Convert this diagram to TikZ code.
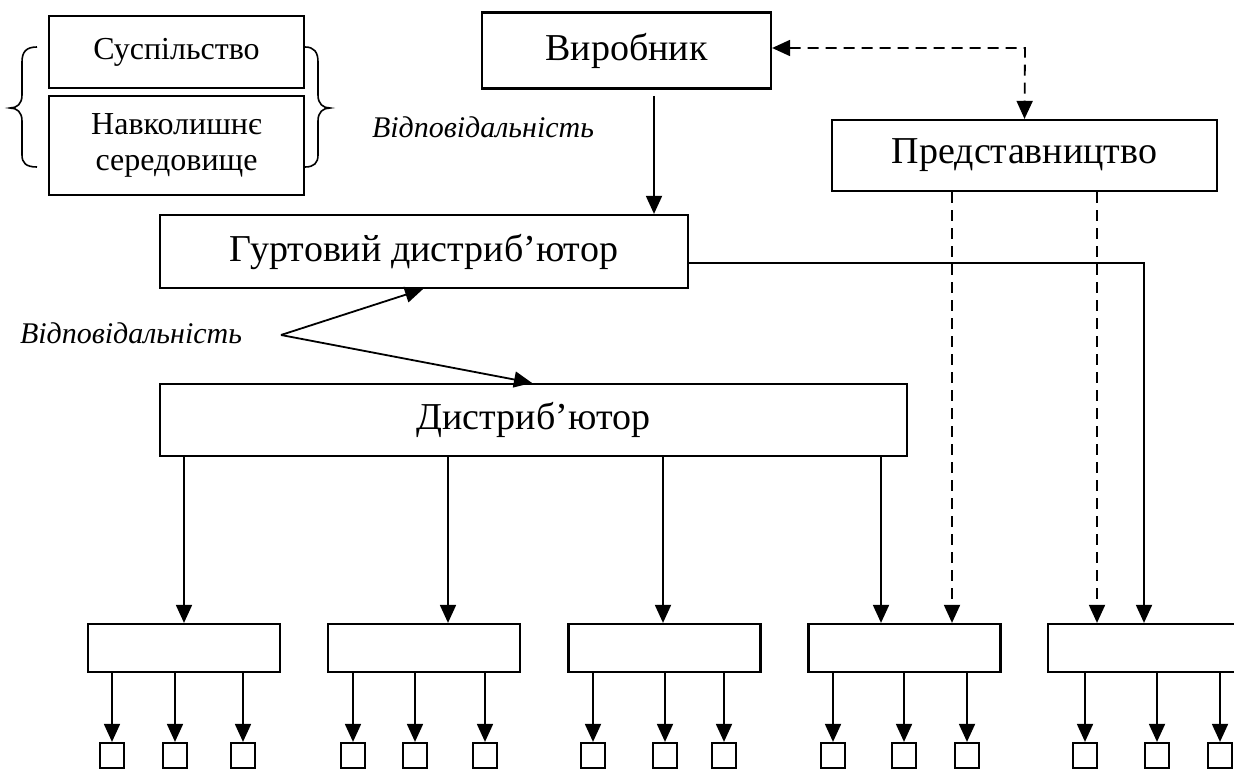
\documentclass[tikz,border=0pt]{standalone}
\usepackage{fontspec}
\setmainfont{Liberation Serif}
\usetikzlibrary{arrows.meta}
\tikzset{
  box/.style={draw, line width=2.2pt, rectangle, inner sep=0pt, align=center},
  big/.style={font=\fontsize{38}{42}\selectfont},
  small/.style={font=\fontsize{32}{38}\selectfont},
  lbl/.style={font=\fontsize{30}{34}\selectfont\itshape, inner sep=0pt},
  tip/.tip={Triangle[length=18pt,width=16pt]},
  arr/.style={line width=1.8pt, -tip},
  darr/.style={arr, dash pattern=on 11pt off 7pt},
  ln/.style={line width=1.8pt},
  dln/.style={ln, dash pattern=on 11pt off 7pt},
  sq/.style={draw, line width=2.2pt, minimum width=24pt, minimum height=25pt, inner sep=0pt},
  brc/.style={line width=1.6pt}
}
\begin{document}
\begin{tikzpicture}[x=1pt,y=-1pt]
\useasboundingbox (0,0) rectangle (1234,770);
% top-left boxes
\node[box, small, minimum width=255pt, minimum height=72pt] (soc) at (176.5,52) {Суспільство};
\node[box, small, minimum width=255pt, minimum height=99pt] (env) at (176.5,145.5) {Навколишнє\\[-2pt]середовище};
% braces
\draw[brc] (37,47) .. controls (26,47) and (22,52) .. (22,62) -- (22,95) .. controls (22,104) and (17,108) .. (10,108) .. controls (17,108) and (22,112) .. (22,121) -- (22,155) .. controls (22,163) and (26,167) .. (37,167);
\draw[brc] (305,47) .. controls (314,47) and (318,52) .. (318,62) -- (318,95) .. controls (318,104) and (323,108) .. (330,108) .. controls (323,108) and (318,112) .. (318,121) -- (318,155) .. controls (318,163) and (314,167) .. (305,167);
% main boxes
\node[box, big, minimum width=289pt, minimum height=76pt] (prod) at (626.5,50.5) {Виробник};
\node[box, big, minimum width=385pt, minimum height=71pt] (rep) at (1024.5,155.5) {Представництво};
\node[box, big, minimum width=528pt, minimum height=73pt] (whole) at (424,251.5) {Гуртовий дистриб’ютор};
\node[box, big, minimum width=747pt, minimum height=72pt] (dist) at (533.5,420) {Дистриб’ютор};
% labels
\node[lbl] (l1) at (483,127) {Відповідальність};
\node[lbl] (l2) at (131,333) {Відповідальність};
\coordinate (apex) at (281,335);
% bottom boxes
\foreach \i/\cx in {1/184,2/424,3/664.5,4/904.5,5/1144}
  \node[box, minimum width=192pt, minimum height=48pt] (b\i) at (\cx,648) {};
% squares
\foreach \i/\a/\b/\c in {1/112/175/243,2/353/415/485,3/593/665/724,4/833/904/967,5/1085/1157/1220}{
  \node[sq] (s\i1) at (\a,755.5) {};
  \node[sq] (s\i2) at (\b,755.5) {};
  \node[sq] (s\i3) at (\c,755.5) {};
  \draw[arr] (b\i.south -| s\i1) -- (s\i1.north);
  \draw[arr] (b\i.south -| s\i2) -- (s\i2.north);
  \draw[arr] (b\i.south -| s\i3) -- (s\i3.north);
}
% connectors
\coordinate (pa) at (654,96);
\draw[arr] (pa) -- (pa |- whole.north);
\coordinate (dc) at (1025,48);
\draw[dln, tip-tip] (prod.east |- dc) -- (dc) -- (rep.north);
\draw[arr] (apex) -- (whole.south -| 423,0);
\draw[arr] (apex) -- (dist.north -| 532,0);
\foreach \x/\b in {184/1,448/2,663/3,881/4}
  \draw[arr] (dist.south -| \x,0) -- (b\b.north -| \x,0);
\draw[darr] (rep.south -| 952,0) -- (b4.north -| 952,0);
\draw[darr] (rep.south -| 1097,0) -- (b5.north -| 1097,0);
\coordinate (wr) at (1144,263);
\draw[arr] (whole.east |- wr) -- (wr) -- (b5.north -| wr);
\end{tikzpicture}
\end{document}
